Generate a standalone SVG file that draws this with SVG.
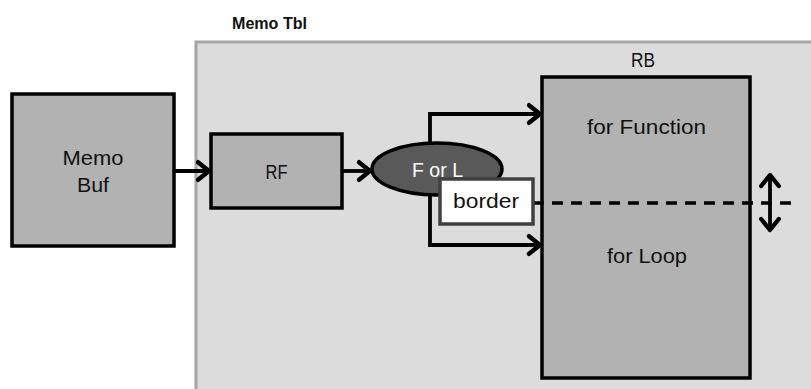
<svg xmlns="http://www.w3.org/2000/svg" width="811" height="389" viewBox="0 0 811 389">
  <style>
    .box { fill: #b2b2b2; stroke: #000; stroke-width: 3.5; }
    .lbl { font-family: "Liberation Sans", Arial, sans-serif; font-size: 21px; fill: #111; text-anchor: middle; }
    .wire { fill: none; stroke: #000; stroke-width: 3.8; stroke-linejoin: miter; }
  </style>
  <defs>
    <marker id="head" markerUnits="userSpaceOnUse" markerWidth="22" markerHeight="22" viewBox="-12 -10 14 20" refX="0" refY="0" orient="auto-start-reverse" overflow="visible">
      <path d="M -10 -8 L 0 0 L -10 8" fill="none" stroke="#000" stroke-width="4" stroke-linecap="round" stroke-linejoin="round"/>
    </marker>
  </defs>

  <rect width="811" height="389" fill="#fff"/>

  <!-- Memo Tbl container -->
  <g id="memo-tbl">
    <rect x="196" y="42" width="700" height="400" fill="#dcdcdc" stroke="#a6a6a6" stroke-width="3"/>
    <text x="232" y="29" font-family="Liberation Sans, Arial, sans-serif" font-size="17" font-weight="bold" fill="#111" textLength="75" lengthAdjust="spacingAndGlyphs">Memo Tbl</text>
  </g>

  <!-- Memo Buf -->
  <g id="memo-buf">
    <rect class="box" x="12" y="94" width="162" height="152"/>
    <text class="lbl" x="93" y="165" textLength="61" lengthAdjust="spacingAndGlyphs">Memo</text>
    <text class="lbl" x="93" y="192" textLength="32" lengthAdjust="spacingAndGlyphs">Buf</text>
  </g>

  <!-- RF -->
  <g id="rf">
    <rect class="box" x="211" y="134" width="131" height="74"/>
    <text class="lbl" x="276.5" y="179" textLength="22" lengthAdjust="spacingAndGlyphs">RF</text>
  </g>

  <!-- RB -->
  <g id="rb">
    <rect class="box" x="542" y="77" width="208" height="301"/>
    <text class="lbl" x="643" y="67" textLength="24" lengthAdjust="spacingAndGlyphs">RB</text>
    <text class="lbl" x="646.5" y="134" textLength="119" lengthAdjust="spacingAndGlyphs">for Function</text>
    <text class="lbl" x="647" y="263" textLength="80" lengthAdjust="spacingAndGlyphs">for Loop</text>
  </g>

  <!-- Connectors -->
  <g id="connectors">
    <line class="wire" x1="174" y1="171" x2="209" y2="171" marker-end="url(#head)"/>
    <line class="wire" x1="342" y1="171" x2="370" y2="171" marker-end="url(#head)"/>
    <polyline class="wire" points="430,146 430,114 540,114" marker-end="url(#head)"/>
    <polyline class="wire" points="430,192 430,245 540,245" marker-end="url(#head)"/>
    <line x1="533" y1="203" x2="792" y2="203" stroke="#000" stroke-width="3.5" stroke-dasharray="11 8"/>
    <line class="wire" x1="770" y1="175" x2="770" y2="230" marker-start="url(#head)" marker-end="url(#head)"/>
  </g>

  <!-- F or L selector -->
  <g id="f-or-l">
    <ellipse cx="437" cy="169" rx="65" ry="26" fill="#595959" stroke="#000" stroke-width="3.5"/>
    <text x="437.5" y="177" font-family="Liberation Sans, Arial, sans-serif" font-size="21" fill="#fff" text-anchor="middle" textLength="51" lengthAdjust="spacingAndGlyphs">F or L</text>
  </g>

  <!-- border label -->
  <g id="border">
    <rect x="440" y="179" width="93" height="45" fill="#fff" stroke="#404040" stroke-width="3.5"/>
    <text class="lbl" x="486" y="208" textLength="66" lengthAdjust="spacingAndGlyphs">border</text>
  </g>
</svg>
